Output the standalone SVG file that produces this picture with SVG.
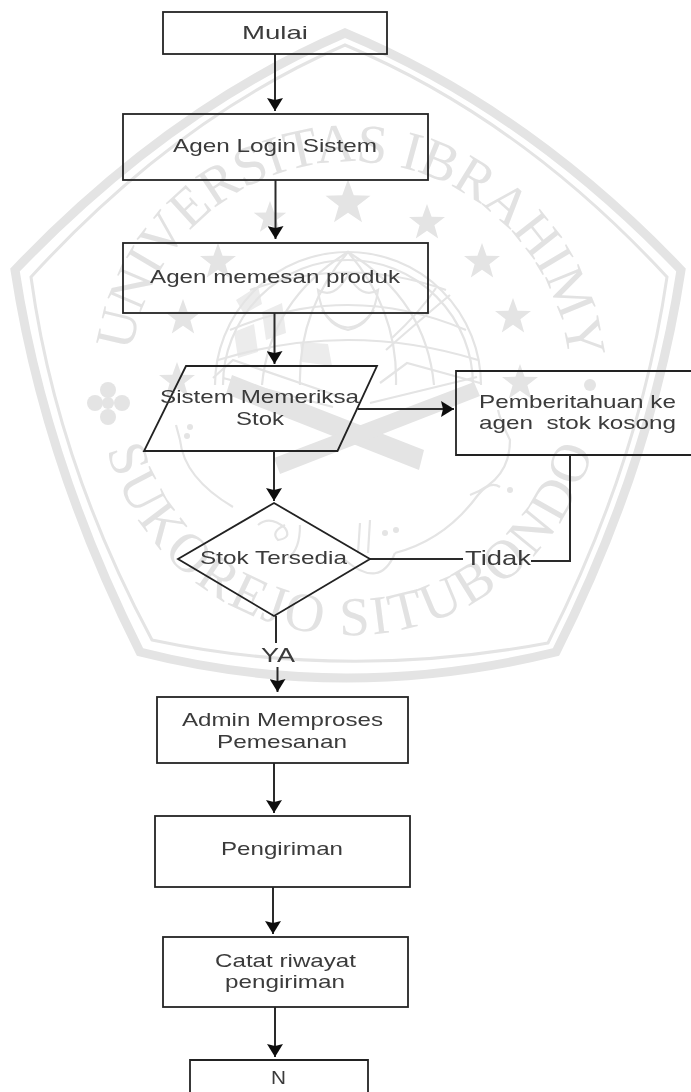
<svg xmlns="http://www.w3.org/2000/svg" width="691" height="1092" viewBox="0 0 691 1092">
<style>
.wm{fill:none;stroke:#e4e4e4}
.wmf{fill:#e4e4e4}
.wmc{fill:#ececec}
.wmt{font-family:"Liberation Serif",serif;fill:#e2e2e2;font-size:55px}
.box{fill:none;stroke:#222;stroke-width:1.8}
.cn{fill:none;stroke:#2a2a2a;stroke-width:2}
.lb{font-family:"Liberation Sans",Arial,sans-serif;font-size:19px;fill:#3a3a3a;white-space:pre}
</style>
<defs>
<marker id="ah" markerUnits="userSpaceOnUse" markerWidth="13" markerHeight="16" viewBox="0 0 13 16" refX="13" refY="8" orient="auto"><path d="M0 0L13 8L0 16L2 8z" fill="#111"/></marker>
<path id="star" d="M0-19L4.6-6.2L18-5.9L7.4 2.3L11.2 15.4L0 7.8L-11.2 15.4L-7.4 2.3L-18-5.9L-4.6-6.2z"/>
<path id="arcTop" d="M132 352A220 220 0 0 1 568 352"/>
<path id="arcBot" d="M107 450A252 252 0 0 0 593 450"/>
<filter id="soft" x="-5%" y="-5%" width="110%" height="110%"><feGaussianBlur stdDeviation="0.4"/></filter>
</defs>
<rect width="691" height="1092" fill="#fff"/>
<g id="watermark" filter="url(#soft)">
<path class="wm" stroke-width="9" d="M345 33Q527 109 681 270Q652 461 556 652Q345 704 140 652Q44 461 15 270Q169 109 345 33z"/>
<path class="wm" stroke-width="3" d="M345 45Q520 118 667 277Q640 461 548 643Q345 681 152 640Q56 461 31 277Q176 118 345 45z"/>
<text class="wmt"><textPath href="#arcTop" textLength="640" lengthAdjust="spacing">UNIVERSITAS IBRAHIMY</textPath></text>
<text class="wmt"><textPath href="#arcBot" textLength="656" lengthAdjust="spacing">SUKOREJO SITUBONDO</textPath></text>
<g class="wmf">
<use href="#star" transform="translate(348 203) scale(1.25)"/>
<use href="#star" transform="translate(270 218) scale(.9)"/>
<use href="#star" transform="translate(427 223)"/>
<use href="#star" transform="translate(218 262)"/>
<use href="#star" transform="translate(482 262)"/>
<use href="#star" transform="translate(183 318)"/>
<use href="#star" transform="translate(513 317)"/>
<use href="#star" transform="translate(177 381)"/>
<use href="#star" transform="translate(520 383)"/>
<circle cx="108" cy="390" r="8"/><circle cx="95" cy="403" r="8"/><circle cx="122" cy="403" r="8"/><circle cx="108" cy="417" r="8"/><circle cx="108" cy="403" r="6"/>
<circle cx="590" cy="385" r="6"/>
<path d="M232 375L424 450L419 470L226 394z"/>
<path d="M274 458L474 382L480 396L280 474z"/>
<circle cx="190" cy="427" r="3"/><circle cx="187" cy="436" r="3"/><circle cx="510" cy="490" r="3"/><circle cx="396" cy="530" r="3"/><circle cx="385" cy="533" r="3"/>
</g>
<g class="wmc">
<path d="M234 332L254 324L258 352L238 358z"/>
<path d="M262 312L282 303L286 333L266 340z"/>
<path d="M300 342L328 344L332 366L302 362z"/>
<path d="M236 300L258 286L262 304L244 314z"/>
</g>
<g class="wm" stroke-width="2.2">
<path d="M215 385A133 133 0 0 1 481 385"/>
<path d="M223 385A125 125 0 0 1 473 385"/>
<path d="M262 385Q270 300 348 252Q426 300 434 385"/>
<path d="M300 385Q298 310 348 252Q398 310 396 385"/>
<path d="M230 330Q348 280 466 330"/>
<path d="M218 360Q348 320 478 360"/>
<path d="M250 290Q348 255 446 290"/>
<path d="M318 290Q322 325 348 330Q374 325 378 290Q362 300 348 275Q334 300 318 290z"/>
<path d="M322 310Q348 345 374 310"/>
<path d="M386 350Q420 320 450 295M392 338Q420 312 436 288"/>
<path d="M213 378L233 360L335 395M223 378L333 407"/>
<path d="M380 383L407 363L480 383M370 403L477 377"/>
<path d="M180 440Q184 478 233 507M180 440L176 425"/>
<path d="M395 553Q445 540 478 495Q490 480 500 487M470 495Q510 480 510 440Q500 420 498 410"/>
<path d="M258 525Q270 515 285 528Q292 538 278 540Q270 532 285 525M300 525Q300 550 288 558"/>
<path d="M360 523L358 553M370 520L368 553M345 560Q380 590 395 553"/>
</g>
</g>
<g id="connectors" filter="url(#soft)">
<path class="cn" marker-end="url(#ah)" d="M275 54V111"/>
<path class="cn" marker-end="url(#ah)" d="M275.500 180V239"/>
<path class="cn" marker-end="url(#ah)" d="M274.500 313V364"/>
<path class="cn" marker-end="url(#ah)" d="M358 409H454"/>
<path class="cn" marker-end="url(#ah)" d="M274 451V501"/>
<path class="cn" d="M370 559H463"/>
<path class="cn" d="M531 561H570V455"/>
<path class="cn" d="M276 616V643"/>
<path class="cn" marker-end="url(#ah)" d="M277.500 667V692"/>
<path class="cn" marker-end="url(#ah)" d="M274 763V813"/>
<path class="cn" marker-end="url(#ah)" d="M273 887V934"/>
<path class="cn" marker-end="url(#ah)" d="M275 1007V1057"/>
<text class="lb" style="font-size:21px" x="465" y="565" textLength="66" lengthAdjust="spacingAndGlyphs">Tidak</text>
<text class="lb" style="font-size:21px" x="261" y="662" textLength="34" lengthAdjust="spacingAndGlyphs">YA</text>
</g>
<g id="n-mulai" filter="url(#soft)"><rect class="box" x="163" y="12" width="224" height="42"/><text class="lb" x="242" y="39" textLength="66" lengthAdjust="spacingAndGlyphs">Mulai</text></g>
<g id="n-login" filter="url(#soft)"><rect class="box" x="123" y="114" width="305" height="66"/><text class="lb" x="173" y="152" textLength="204" lengthAdjust="spacingAndGlyphs">Agen Login Sistem</text></g>
<g id="n-pesan" filter="url(#soft)"><rect class="box" x="123" y="243" width="305" height="70"/><text class="lb" x="150" y="283" textLength="250" lengthAdjust="spacingAndGlyphs">Agen memesan produk</text></g>
<g id="n-periksa" filter="url(#soft)"><path class="box" d="M186 366H377L337.500 451H144z"/><text class="lb" x="160" y="403" textLength="199" lengthAdjust="spacingAndGlyphs">Sistem Memeriksa</text><text class="lb" x="236" y="425" textLength="48" lengthAdjust="spacingAndGlyphs">Stok</text></g>
<g id="n-kosong" filter="url(#soft)"><path class="box" d="M691 371H456V455H691"/><text class="lb" x="479" y="408" textLength="197" lengthAdjust="spacingAndGlyphs">Pemberitahuan ke</text><text class="lb" x="479" y="429" textLength="197" lengthAdjust="spacingAndGlyphs">agen  stok kosong</text></g>
<g id="n-tersedia" filter="url(#soft)"><path class="box" d="M274 503L370 559L274 616L178 559z"/><text class="lb" x="200" y="564" textLength="147" lengthAdjust="spacingAndGlyphs">Stok Tersedia</text></g>
<g id="n-admin" filter="url(#soft)"><rect class="box" x="157" y="697" width="251" height="66"/><text class="lb" x="182" y="726" textLength="201" lengthAdjust="spacingAndGlyphs">Admin Memproses</text><text class="lb" x="217" y="748" textLength="130" lengthAdjust="spacingAndGlyphs">Pemesanan</text></g>
<g id="n-kirim" filter="url(#soft)"><rect class="box" x="155" y="816" width="255" height="71"/><text class="lb" x="221" y="855" textLength="122" lengthAdjust="spacingAndGlyphs">Pengiriman</text></g>
<g id="n-catat" filter="url(#soft)"><rect class="box" x="163" y="937" width="245" height="70"/><text class="lb" x="215" y="967" textLength="141" lengthAdjust="spacingAndGlyphs">Catat riwayat</text><text class="lb" x="225" y="988" textLength="120" lengthAdjust="spacingAndGlyphs">pengiriman</text></g>
<g id="n-n" filter="url(#soft)"><path class="box" d="M190 1092V1060H368V1092"/><text class="lb" x="271" y="1084" textLength="15" lengthAdjust="spacingAndGlyphs">N</text></g>
</svg>
